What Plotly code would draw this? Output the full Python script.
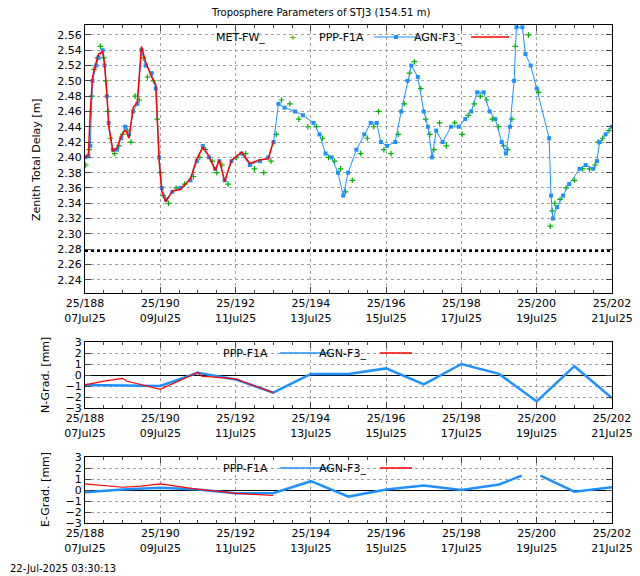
import plotly.graph_objects as go

# ---- data ----
ztd_days = [188.0,188.09,188.14,188.2,188.3,188.36,188.47,188.52,188.58,188.63,188.74,188.85,188.96,189.07,189.17,189.28,189.39,189.5,189.61,189.77,189.88,189.97,190.04,190.15,190.32,190.53,190.8,190.97,191.13,191.29,191.46,191.57,191.71,191.89,192.16,192.38,192.65,192.87,193.01,193.14,193.3,193.58,193.79,194.07,194.23,194.39,194.55,194.72,194.86,194.99,195.21,195.42,195.59,195.75,195.86,196.02,196.24,196.4,196.57,196.67,196.84,197.0,197.11,197.22,197.33,197.5,197.72,197.93,198.1,198.26,198.42,198.59,198.75,198.9,199.07,199.18,199.29,199.4,199.46,199.62,199.7,199.84,200.0,200.33,200.38,200.43,200.54,200.7,200.86,201.14,201.3,201.5,201.6,201.67,201.83,202.0]
ppp_ztd = [2.400,2.402,2.415,2.500,2.520,2.530,2.540,2.520,2.480,2.445,2.410,2.410,2.425,2.440,2.430,2.460,2.470,2.540,2.520,2.510,2.490,2.400,2.360,2.345,2.355,2.360,2.370,2.395,2.415,2.400,2.385,2.395,2.370,2.395,2.405,2.390,2.395,2.400,2.420,2.470,2.465,2.460,2.455,2.445,2.430,2.405,2.400,2.380,2.350,2.380,2.410,2.430,2.445,2.445,2.420,2.415,2.420,2.460,2.500,2.520,2.505,2.460,2.440,2.400,2.435,2.420,2.440,2.440,2.450,2.460,2.485,2.485,2.460,2.450,2.420,2.405,2.440,2.500,2.570,2.570,2.535,2.520,2.490,2.425,2.350,2.320,2.335,2.350,2.365,2.385,2.390,2.385,2.395,2.420,2.430,2.440]
agn_days = [188.0,188.09,188.14,188.2,188.3,188.36,188.47,188.52,188.58,188.63,188.74,188.85,188.96,189.07,189.17,189.28,189.39,189.5,189.61,189.77,189.88,189.97,190.04,190.15,190.32,190.53,190.8,190.97,191.13,191.29,191.46,191.57,191.71,191.89,192.16,192.38,192.65,192.87,193.01]
agn_ztd = [2.401,2.403,2.460,2.505,2.525,2.535,2.538,2.522,2.485,2.440,2.408,2.412,2.428,2.436,2.425,2.465,2.472,2.545,2.525,2.505,2.495,2.395,2.355,2.342,2.356,2.358,2.372,2.398,2.413,2.402,2.383,2.397,2.368,2.396,2.407,2.392,2.397,2.398,2.422]
met_days = [188.02,188.11,188.18,188.24,188.33,188.41,188.5,188.55,188.61,188.68,188.79,188.9,189.0,189.12,189.22,189.33,189.44,189.55,189.66,189.82,189.92,190.0,190.08,190.22,190.42,190.65,190.88,191.05,191.2,191.38,191.5,191.64,191.8,192.02,192.27,192.5,192.75,192.94,193.08,193.22,193.44,193.68,193.92,194.15,194.31,194.47,194.63,194.79,194.92,195.1,195.32,195.5,195.67,195.8,195.94,196.13,196.32,196.48,196.62,196.75,196.92,197.05,197.16,197.27,197.42,197.6,197.82,198.02,198.18,198.34,198.5,198.67,198.82,198.98,199.12,199.23,199.34,199.43,199.78,200.05,200.36,200.41,200.48,200.62,200.78,201.0,201.22,201.4,201.55,201.63,201.75,201.92]
met_ztd = [2.390,2.410,2.480,2.515,2.530,2.545,2.530,2.500,2.460,2.425,2.405,2.415,2.430,2.435,2.420,2.480,2.475,2.530,2.505,2.500,2.450,2.380,2.350,2.340,2.360,2.365,2.375,2.400,2.410,2.395,2.380,2.390,2.365,2.400,2.405,2.385,2.380,2.395,2.430,2.475,2.470,2.450,2.440,2.440,2.425,2.400,2.395,2.385,2.355,2.370,2.405,2.425,2.440,2.460,2.410,2.405,2.430,2.470,2.510,2.525,2.490,2.450,2.430,2.410,2.445,2.415,2.445,2.430,2.455,2.470,2.480,2.475,2.450,2.440,2.415,2.410,2.450,2.545,2.560,2.485,2.310,2.330,2.340,2.345,2.360,2.370,2.385,2.385,2.390,2.420,2.425,2.435]
ref_days = [188.0,202.0]
ref_ztd = [2.278,2.278]

grad_days = [188,189,190,191,192,193,194,195,196,197,198,199,200,201,202]
ppp_ngrad = [-0.9,-0.95,-1.0,0.2,-0.4,-1.6,0.1,0.1,0.6,-0.85,1.0,0.1,-2.4,0.8,-2.1]
agn_ngrad_days = [188,188.5,189,189.1,190,191,191.1,191.5,192,193]
agn_ngrad = [-0.9,-0.55,-0.3,-0.55,-1.3,0.25,-0.1,-0.2,-0.35,-1.6]
ppp_egrad_days = [188,189,190,191,192,193,194,195,196,197,198,199,199.6,None,200.1,201,202]
ppp_egrad = [-0.2,0.05,0.2,0.05,-0.3,-0.3,0.8,-0.6,0.05,0.4,0.0,0.5,1.3,None,1.3,-0.15,0.25]
agn_egrad_days = [188,188.5,189,189.5,190,190.5,191,191.5,192,192.5,193]
agn_egrad = [0.55,0.4,0.25,0.35,0.55,0.3,0.05,-0.1,-0.3,-0.4,-0.5]

tick_vals = [188,190,192,194,196,198,200,202]
tick_text = ["25/188<br>07Jul25","25/190<br>09Jul25","25/192<br>11Jul25","25/194<br>13Jul25",
             "25/196<br>15Jul25","25/198<br>17Jul25","25/200<br>19Jul25","25/202<br>21Jul25"]

BLUE = "#1e90ff"; RED = "#ff0000"; GREEN = "#00b000"
FONT = "DejaVu Sans"

fig = go.Figure()
fig.add_trace(go.Scatter(x=ref_days, y=ref_ztd, mode="lines", line=dict(color="black", width=2.5, dash="dot"), xaxis="x", yaxis="y"))
fig.add_trace(go.Scatter(x=met_days, y=met_ztd, mode="markers", marker=dict(symbol="cross-thin", size=4, line=dict(color=GREEN, width=1.2)), xaxis="x", yaxis="y"))
fig.add_trace(go.Scatter(x=ztd_days, y=ppp_ztd, mode="lines+markers", line=dict(color=BLUE, width=1), marker=dict(symbol="square", size=4, color=BLUE), xaxis="x", yaxis="y"))
fig.add_trace(go.Scatter(x=agn_days, y=agn_ztd, mode="lines", line=dict(color=RED, width=1.5), xaxis="x", yaxis="y"))

fig.add_trace(go.Scatter(x=grad_days, y=ppp_ngrad, mode="lines", line=dict(color=BLUE, width=2.5), xaxis="x2", yaxis="y2"))
fig.add_trace(go.Scatter(x=agn_ngrad_days, y=agn_ngrad, mode="lines", line=dict(color=RED, width=1.2), xaxis="x2", yaxis="y2"))
fig.add_trace(go.Scatter(x=ppp_egrad_days, y=ppp_egrad, mode="lines", line=dict(color=BLUE, width=2.5), xaxis="x3", yaxis="y3"))
fig.add_trace(go.Scatter(x=agn_egrad_days, y=agn_egrad, mode="lines", line=dict(color=RED, width=1.2), xaxis="x3", yaxis="y3"))

xd = [85/640, 612/640]
def xax(anchor):
    return dict(domain=xd, anchor=anchor, range=[188, 202], tickvals=tick_vals, ticktext=tick_text,
                ticks="inside", ticklen=6, showline=True, linecolor="black", mirror="ticks",
                showgrid=True, gridcolor="#a0a0a0", griddash="dot", zeroline=False, automargin=False,
                minor=dict(dtick=0.5, tick0=188, ticks="inside", ticklen=3, showgrid=False),
                tickfont=dict(size=11, color="black"))
def yax(anchor, dom, rng, dtick, fmt):
    return dict(domain=dom, anchor=anchor, range=rng, dtick=dtick, tickformat=fmt, automargin=False,
                ticks="inside", ticklen=6, showline=True, linecolor="black", mirror="ticks",
                showgrid=True, gridcolor="#a0a0a0", griddash="dot",
                tickfont=dict(size=11, color="black"))

fig.update_layout(
    width=640, height=576, margin=dict(l=0, r=0, t=0, b=0, autoexpand=False),
    paper_bgcolor="white", plot_bgcolor="white", showlegend=False,
    font=dict(family=FONT, size=11, color="black"),
    xaxis=xax("y"), xaxis2=xax("y2"), xaxis3=xax("y3"),
    yaxis=dict(yax("x", [1-293/576, 1-25/576], [2.2227, 2.573], 0.02, ".2f"), tick0=2.24, zeroline=False),
    yaxis2=dict(yax("x2", [1-408/576, 1-342/576], [-3, 3], 1, "d"), zeroline=True, zerolinecolor="black", zerolinewidth=1),
    yaxis3=dict(yax("x3", [1-523/576, 1-457/576], [-3, 3], 1, "d"), zeroline=True, zerolinecolor="black", zerolinewidth=1),
)

ann = []
shp = []
def ptext(x, y, t, anchor="right", size=11, color="black", angle=0):
    ann.append(dict(x=x/640, y=1-y/576, xref="paper", yref="paper", text=t, showarrow=False, textangle=angle,
                    xanchor=anchor, yanchor="middle", font=dict(size=size, color=color, family=FONT)))
def pline(x0, x1, y, color, w):
    shp.append(dict(type="line", xref="paper", yref="paper", x0=x0/640, x1=x1/640, y0=1-y/576, y1=1-y/576,
                    line=dict(color=color, width=w)))

ptext(320, 12, "Troposphere Parameters of STJ3 (154.51 m)", "center", 10)
ptext(36, 160, "Zenith Total Delay [m]", "center", 11, angle=-90)
ptext(45, 375, "N-Grad. [mm]", "center", 11, angle=-90)
ptext(45, 490, "E-Grad. [mm]", "center", 11, angle=-90)
ptext(267, 37, "MET-FW_")
ptext(293, 37, "+", "center", 9, GREEN)
ptext(366, 37, "PPP-F1A")
pline(374, 420, 37, BLUE, 1.2)
shp.append(dict(type="rect", xref="paper", yref="paper", x0=394/640, x1=398/640, y0=1-39/576, y1=1-35/576,
                fillcolor=BLUE, line=dict(width=0)))
ptext(463, 37, "AGN-F3_")
pline(471, 509, 37, RED, 1.5)
for yy in (353, 468):
    ptext(270, yy, "PPP-F1A")
    pline(280, 330, yy, BLUE, 1.5)
    ptext(368, yy, "AGN-F3_")
    pline(380, 412, yy, RED, 1.5)
ptext(8, 568, "22-Jul-2025 03:30:13", "left", 10)
fig.update_layout(annotations=ann, shapes=shp)

fig.write_html("out.html", config={"displayModeBar": False},
               post_script="document.body.style.margin='0';document.body.style.overflow='hidden';")
